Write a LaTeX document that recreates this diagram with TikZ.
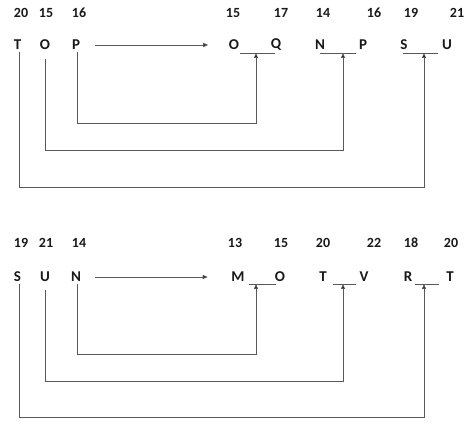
\documentclass[tikz,border=0pt]{standalone}
\usepackage{fontspec}
\setmainfont{Carlito}
\usetikzlibrary{arrows.meta}
\begin{document}
\begin{tikzpicture}[x=1pt,y=-1pt,
  lbl/.style={font=\fontsize{15}{18}\selectfont\bfseries,inner sep=1.5pt,text=black!90},
  num/.style={font=\fontsize{14}{17}\selectfont\bfseries,inner sep=0pt,text=black!90},
  conn/.style={draw=black!65,line width=0.9pt},
  tip/.style={-{Triangle[length=5pt,width=4pt,fill=black]}}]
\useasboundingbox (0,0) rectangle (474,427);
% ---------- top block ----------
\foreach \n/\x/\t in {a1/21/20,a2/46/15,a3/79/16,a4/233/15,a5/281/17,a6/323/14,a7/374/16,a8/411/19,a9/457/21}
  \node[num] (\n) at (\x,13) {\t};
\node[lbl] (T1) at (17.5,45) {T};
\node[lbl] (O1) at (45,45) {O};
\node[lbl] (P1) at (76,45) {P};
\node[lbl] (O2) at (234,45) {O};
\node[lbl] (Q2) at (276,45) {Q};
\node[lbl] (N2) at (320,45) {N};
\node[lbl] (P2) at (363,45) {P};
\node[lbl] (S2) at (404,45) {S};
\node[lbl] (U2) at (447,45) {U};
\coordinate (ua1) at (240,53); \coordinate (ub1) at (275,53);
\coordinate (ua2) at (320,53); \coordinate (ub2) at (356,53);
\coordinate (ua3) at (403,53); \coordinate (ub3) at (438,53);
\coordinate (m1) at (256,53); \coordinate (m2) at (343,53); \coordinate (m3) at (424,53);
\draw[conn] (ua1) -- (ub1);
\draw[conn] (ua2) -- (ub2);
\draw[conn] (ua3) -- (ub3);
\draw[conn,tip] ([xshift=13pt]P1.east) -- ([xshift=-19pt]O2.west);
\draw[conn,tip] (P1.south -| 77,0) -- (77,123) -| (m1);
\draw[conn,tip] (45,59) -- (45,150) -| (m2);
\draw[conn,tip] (T1.south -| 19,0) -- (19,187) -| (m3);
% ---------- bottom block ----------
\foreach \n/\x/\t in {b1/21/19,b2/46/21,b3/79/14,b4/235/13,b5/281/15,b6/323/20,b7/374/22,b8/411/18,b9/451/20}
  \node[num] (\n) at (\x,243) {\t};
\node[lbl] (S3) at (17.5,277) {S};
\node[lbl] (U3) at (45,277) {U};
\node[lbl] (N3) at (76,277) {N};
\node[lbl] (M4) at (238,277) {M};
\node[lbl] (O4) at (280,277) {O};
\node[lbl] (T4) at (323,277) {T};
\node[lbl] (V4) at (364,277) {V};
\node[lbl] (R4) at (408,277) {R};
\node[lbl] (T5) at (450,277) {T};
\coordinate (va1) at (249,284); \coordinate (vb1) at (276,284);
\coordinate (va2) at (333,284); \coordinate (vb2) at (356,284);
\coordinate (va3) at (415,284); \coordinate (vb3) at (439,284);
\coordinate (n1) at (256,284); \coordinate (n2) at (343,284); \coordinate (n3) at (424,284);
\draw[conn] (va1) -- (vb1);
\draw[conn] (va2) -- (vb2);
\draw[conn] (va3) -- (vb3);
\draw[conn,tip] ([xshift=12pt]N3.east) -- ([xshift=-22pt]M4.west);
\draw[conn,tip] (N3.south -| 77,0) -- (77,354) -| (n1);
\draw[conn,tip] (45,290) -- (45,381) -| (n2);
\draw[conn,tip] (S3.south -| 19,0) -- (19,417) -| (n3);
\end{tikzpicture}
\end{document}
